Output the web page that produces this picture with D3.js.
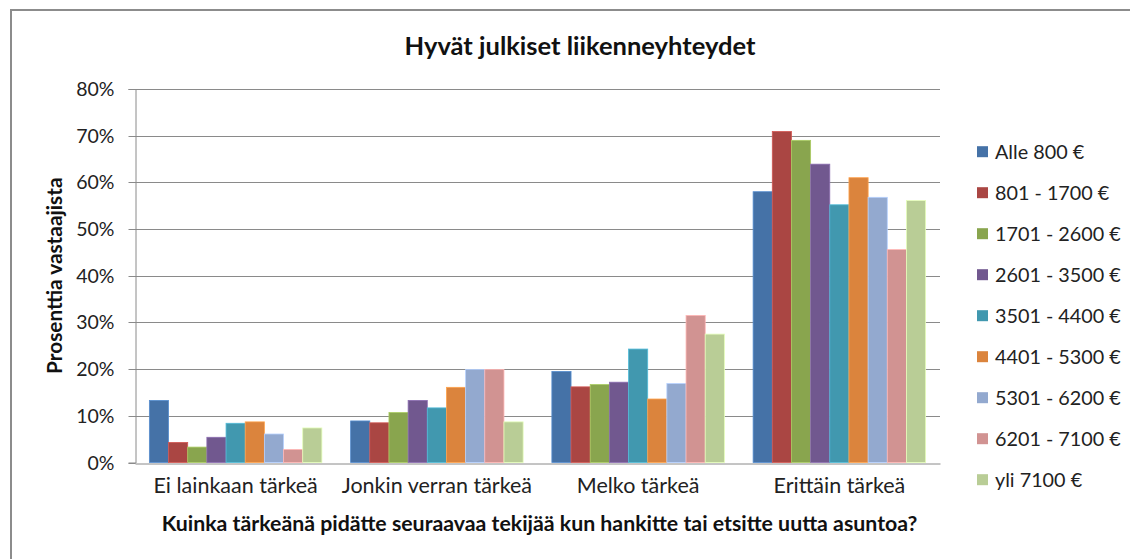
<!DOCTYPE html>
<html>
<head>
<meta charset="utf-8">
<script src="https://cdn.jsdelivr.net/npm/d3@7"></script>
<style>
  html, body { margin: 0; padding: 0; background: #fff; }
  svg { display: block; font-family: Lato, "Open Sans", sans-serif; }
</style>
</head>
<body>
<svg id="chart" width="1130" height="559"></svg>
<script>
const title = "Hyvät julkiset liikenneyhteydet";
const xTitle = "Kuinka tärkeänä pidätte seuraavaa tekijää kun hankitte tai etsitte uutta asuntoa?";
const yTitle = "Prosenttia vastaajista";
const categories = ["Ei lainkaan tärkeä", "Jonkin verran tärkeä", "Melko tärkeä", "Erittäin tärkeä"];
const seriesNames = ["Alle 800 €", "801 - 1700 €", "1701 - 2600 €", "2601 - 3500 €", "3501 - 4400 €", "4401 - 5300 €", "5301 - 6200 €", "6201 - 7100 €", "yli 7100 €"];
const colors = ["#4572A7", "#AA4643", "#89A54E", "#71588F", "#4198AF", "#DB843D", "#93A9CF", "#D19392", "#B9CD96"];
// values per series, in percent, one per category
const alle800   = [13.3, 8.9, 19.5, 58.0];
const s801      = [4.3, 8.5, 16.2, 70.9];
const s1701     = [3.3, 10.7, 16.7, 69.0];
const s2601     = [5.4, 13.3, 17.2, 63.9];
const s3501     = [8.4, 11.7, 24.3, 55.2];
const s4401     = [8.7, 16.1, 13.6, 61.0];
const s5301     = [6.1, 19.9, 16.9, 56.8];
const s6201     = [2.8, 19.9, 31.5, 45.6];
const yli7100   = [7.4, 8.7, 27.5, 56.1];
const seriesValues = [alle800, s801, s1701, s2601, s3501, s4401, s5301, s6201, yli7100];
const yTicks = [0, 10, 20, 30, 40, 50, 60, 70, 80];

const svg = d3.select("#chart");

// outer frame
svg.append("path")
  .attr("d", "M11,1200 L11,10 L1135,10")
  .attr("fill", "none").attr("stroke", "#8c8c8c").attr("stroke-width", 2);

const plot = { left: 135, right: 940, top: 89, bottom: 462.5 };

const x0 = d3.scaleBand().domain(categories).range([plot.left, plot.right]).padding(0);
const bw = x0.bandwidth();
const gap = bw * 1.5 / 10.5;
const x1 = d3.scaleBand().domain(seriesNames).range([gap / 2, bw - gap / 2]).padding(0);
const y = d3.scaleLinear().domain([0, 80]).range([plot.bottom, plot.top]);

// gridlines
svg.append("g")
  .selectAll("line").data(yTicks.slice(1)).join("line")
  .attr("x1", plot.left).attr("x2", plot.right)
  .attr("y1", d => Math.round(y(d)) + 0.5).attr("y2", d => Math.round(y(d)) + 0.5)
  .attr("stroke", "#8a8a8a").attr("stroke-width", 1);

// y axis
const yAxis = d3.axisLeft(y).tickValues(yTicks).tickFormat(d => d + "%").tickSizeOuter(0).tickSize(7).tickPadding(14);
const yg = svg.append("g").attr("transform", `translate(${plot.left + 0.5},0)`).call(yAxis);
yg.select(".domain").attr("stroke", "#8a8a8a");
yg.selectAll(".tick line").attr("stroke", "#8a8a8a");
yg.selectAll(".tick").attr("transform", d => `translate(0,${Math.round(y(d)) + 0.5})`);
yg.selectAll("text").attr("font-size", 19.5).attr("fill", "#222").attr("font-family", "Lato, sans-serif");

// bars
const groups = svg.append("g").selectAll("g").data(categories).join("g")
  .attr("transform", d => `translate(${x0(d)},0)`);
groups.selectAll("rect")
  .data((c, ci) => seriesNames.map((s, si) => ({ s, si, v: seriesValues[si][ci] })))
  .join("rect")
  .attr("x", d => x1(d.s))
  .attr("width", x1.bandwidth())
  .attr("y", d => y(d.v))
  .attr("height", d => y(0) - y(d.v))
  .attr("fill", d => colors[d.si])
  .attr("stroke", d => d3.color(colors[d.si]).brighter(0.6))
  .attr("stroke-width", 0.8);

// x axis
const xAxis = d3.axisBottom(x0).tickSize(0).tickPadding(14).tickSizeOuter(0);
const xg = svg.append("g").attr("transform", `translate(0,${Math.round(plot.bottom) + 0.5})`).call(xAxis);
xg.select(".domain").attr("stroke", "#8a8a8a");
xg.selectAll("text").attr("font-size", 21.5).attr("fill", "#222").attr("font-family", "Lato, sans-serif");

// title
svg.append("text").attr("x", 580).attr("y", 55).attr("text-anchor", "middle")
  .attr("font-size", 25.5).attr("font-weight", "bold").attr("fill", "#111").text(title);

// axis titles
svg.append("text").attr("x", (plot.left + plot.right) / 2 + 2).attr("y", 531).attr("text-anchor", "middle")
  .attr("font-size", 21.3).attr("font-weight", "bold").attr("fill", "#111").text(xTitle);
svg.append("text").attr("transform", `translate(62,${(plot.top + plot.bottom) / 2}) rotate(-90)`)
  .attr("text-anchor", "middle").attr("font-size", 20.8).attr("font-weight", "bold").attr("fill", "#111").text(yTitle);

// legend
const legend = svg.append("g").selectAll("g").data(seriesNames).join("g")
  .attr("transform", (d, i) => `translate(977,${151.7 + i * 41})`);
legend.append("rect").attr("x", 0).attr("y", -5.5).attr("width", 11).attr("height", 11)
  .attr("fill", (d, i) => colors[i]);
legend.append("text").attr("x", 18).attr("y", 0).attr("dy", "0.35em")
  .attr("font-size", 19.8).attr("fill", "#222").text(d => d);
</script>
</body>
</html>
